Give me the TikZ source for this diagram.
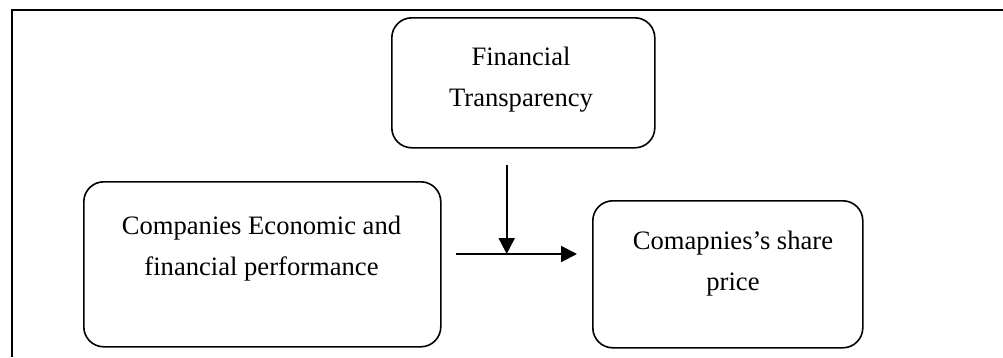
\documentclass[tikz,border=0pt]{standalone}
\usepackage{fontspec}
\setmainfont{Liberation Serif}
\usetikzlibrary{arrows.meta}
\begin{document}
\begin{tikzpicture}[x=1pt,y=-1pt,
  box/.style={draw=black,line width=1.6pt,rounded corners=20pt,inner sep=0pt,anchor=north west},
  txt/.style={align=center,font=\fontsize{26.6}{41}\selectfont,inner sep=0pt},
  arr/.style={line width=2pt,-{Triangle[length=16pt,width=16pt]}}]
\useasboundingbox (0,0) rectangle (1003,357);
\fill[white] (0,0) rectangle (1003,357);
\coordinate (ftr) at (1003,10);
\coordinate (ftl) at (11.5,10);
\coordinate (fbl) at (11.5,357);
\draw[line width=2pt] (ftr) -- (ftl) -- (fbl);
% boxes
\node[box,minimum width=263pt,minimum height=130pt] (top) at (391,17) {};
\node[box,minimum width=357pt,minimum height=165pt] (left) at (83,181) {};
\node[box,minimum width=270pt,minimum height=147pt] (right) at (592,200) {};
% texts
\node[txt] (toptxt) at (521,79.5) {Financial\\Transparency};
\node[txt] (lefttxt) at (261.5,249) {Companies Economic and\\financial performance};
\node[txt] (righttxt) at (733,263.5) {Comapnies’s share\\price};
% arrows
\coordinate (vs) at (506.7,165);
\coordinate (hs) at (456,254);
\coordinate (he) at (577,254);
\draw[arr] (vs) -- (vs |- hs);
\draw[arr] (hs) -- (he);
\end{tikzpicture}
\end{document}
